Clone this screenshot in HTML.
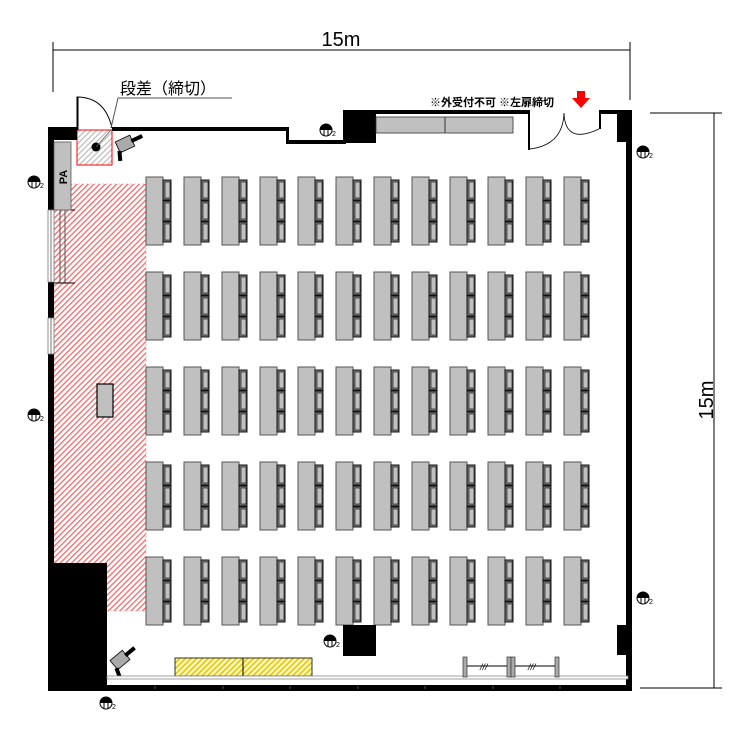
<!DOCTYPE html>
<html><head><meta charset="utf-8"><style>html,body{margin:0;padding:0;background:#fff}svg{display:block}</style></head>
<body>
<svg width="750" height="750" viewBox="0 0 750 750" xmlns="http://www.w3.org/2000/svg">
<defs>
<pattern id="rh" width="4" height="4" patternUnits="userSpaceOnUse" patternTransform="rotate(45)">
<rect width="4" height="4" fill="#fff"/><rect width="1.3" height="4" fill="#f26a6a"/></pattern>
<pattern id="gh" width="4" height="4" patternUnits="userSpaceOnUse" patternTransform="rotate(45)">
<rect width="4" height="4" fill="#fff"/><rect width="1.2" height="4" fill="#bbb"/></pattern>
<pattern id="yh" width="4" height="4" patternUnits="userSpaceOnUse" patternTransform="rotate(45)">
<rect width="4" height="4" fill="#fff7c0"/><rect width="1.5" height="4" fill="#e8c400"/></pattern>
<g id="chair">
<rect x="0" y="0" width="8" height="20" fill="#777" stroke="#111" stroke-width="1"/>
<rect x="2" y="2" width="5" height="16" fill="#c0c0c0" stroke="#333" stroke-width="0.8"/>
</g>
<g id="desk">
<rect x="0" y="0" width="17" height="68" fill="#c0c0c0" stroke="#555" stroke-width="1"/>
<use href="#chair" x="17" y="3"/>
<use href="#chair" x="17" y="24"/>
<use href="#chair" x="17" y="45"/>
</g>
<g id="out">
<circle cx="0" cy="0" r="6" fill="#fff" stroke="#000" stroke-width="1"/>
<path d="M-6,0 A6,6 0 0 1 6,0 Z" fill="#000"/>
<line x1="-2" y1="-1" x2="-2" y2="6" stroke="#000"/><line x1="2" y1="-1" x2="2" y2="6" stroke="#000"/>
<text x="6" y="6" font-family="Liberation Sans, sans-serif" font-size="7">2</text>
</g>
<g id="spk">
<rect x="-8" y="-6" width="16" height="12" fill="#aaa" stroke="#000" stroke-width="0.8"/>
<rect x="7" y="-2" width="12" height="4" fill="#000"/>
<rect x="-10" y="4" width="4" height="10" fill="#000" transform="rotate(20 -8 4)"/>
</g>
</defs>

<line x1="53" y1="50" x2="630" y2="50" stroke="#000"/>
<line x1="53" y1="42" x2="53" y2="92" stroke="#000"/>
<line x1="630" y1="42" x2="630" y2="100" stroke="#000"/>
<text x="341" y="46" font-family="Liberation Sans, sans-serif" font-size="20" text-anchor="middle">15m</text>
<line x1="714" y1="113" x2="714" y2="688" stroke="#000"/>
<line x1="650" y1="113" x2="722" y2="113" stroke="#000"/>
<line x1="640" y1="688" x2="722" y2="688" stroke="#000"/>
<text transform="translate(713,400) rotate(-90)" font-family="Liberation Sans, sans-serif" font-size="20" text-anchor="middle">15m</text>

<rect x="54" y="184" width="92" height="427" fill="url(#rh)" stroke="#e88" stroke-width="0.6" stroke-dasharray="2,2"/>
<rect x="77" y="130" width="35" height="35" fill="url(#gh)" stroke="#f00" stroke-width="1"/>
<circle cx="96" cy="147" r="4.5" fill="#000"/>
<line x1="96" y1="147" x2="111" y2="130" stroke="#555" stroke-width="0.8"/>

<rect x="48" y="127" width="6" height="563" fill="#000"/>
<rect x="48" y="127" width="29" height="13" fill="#000"/>
<rect x="48" y="685" width="584" height="6" fill="#000"/>
<rect x="626" y="112" width="6" height="579" fill="#000"/>
<rect x="112" y="127" width="176" height="4" fill="#000"/>
<rect x="286" y="127" width="3" height="17" fill="#000"/>
<rect x="286" y="140" width="60" height="4" fill="#000"/>
<rect x="343" y="110" width="185" height="4" fill="#000"/>
<rect x="343" y="110" width="33" height="33" fill="#000"/>
<rect x="376" y="117" width="137" height="16" fill="#c0c0c0" stroke="#333" stroke-width="0.8"/>
<line x1="445" y1="117" x2="445" y2="133" stroke="#333"/>
<rect x="528" y="110" width="2" height="40" fill="#000"/>
<rect x="599" y="110" width="33" height="4" fill="#000"/>
<rect x="599" y="110" width="2" height="19" fill="#000"/>
<rect x="617" y="110" width="15" height="32" fill="#000"/>
<path d="M530,149 Q563,145 564,113 Q565,145 599,129" fill="none" stroke="#000" stroke-width="0.8"/>
<path d="M77,130 L77,97 Q105,97 112,128" fill="none" stroke="#000" stroke-width="1"/>
<rect x="77" y="97" width="1.5" height="33" fill="#000"/>

<rect x="48" y="210" width="6" height="72" fill="#fff" stroke="#777" stroke-width="0.8"/>
<line x1="51" y1="210" x2="51" y2="282" stroke="#777"/>
<rect x="48" y="318" width="6" height="36" fill="#fff" stroke="#777" stroke-width="0.8"/>
<line x1="51" y1="318" x2="51" y2="354" stroke="#777"/>
<line x1="60" y1="210" x2="60" y2="283" stroke="#555"/>
<line x1="65" y1="210" x2="65" y2="283" stroke="#555"/>
<line x1="54" y1="283" x2="75" y2="283" stroke="#000" stroke-width="1"/>
<rect x="54" y="142" width="17" height="68" fill="#c0c0c0" stroke="#555" stroke-width="0.8"/>
<text transform="translate(67,177) rotate(-90)" font-family="Liberation Sans, sans-serif" font-size="11" font-weight="bold" text-anchor="middle">PA</text>
<line x1="71" y1="210" x2="75" y2="210" stroke="#000"/>

<rect x="97" y="384" width="16" height="33" fill="#c0c0c0" stroke="#000" stroke-width="1.2"/>

<rect x="48" y="563" width="59" height="128" fill="#000"/>

<text x="120" y="94" font-family="Liberation Sans, Noto Sans CJK JP, sans-serif" font-size="16">段差（締切）</text>
<line x1="118" y1="98" x2="232" y2="98" stroke="#555"/>
<line x1="118" y1="98" x2="111" y2="128" stroke="#555"/>

<text x="430" y="106" font-family="Liberation Sans, Noto Sans CJK JP, sans-serif" font-size="11" font-weight="bold">※外受付不可 ※左扉締切</text>
<path d="M577,91 L585,91 L585,98 L590,98 L581,108 L572,98 L577,98 Z" fill="#f00"/>

<use href="#spk" transform="translate(125,144) rotate(-25)"/>
<use href="#spk" transform="translate(120,660) rotate(-40)"/>

<g id="row">
<use href="#desk" x="146" y="177"/><use href="#desk" x="184" y="177"/><use href="#desk" x="222" y="177"/><use href="#desk" x="260" y="177"/><use href="#desk" x="298" y="177"/><use href="#desk" x="336" y="177"/><use href="#desk" x="374" y="177"/><use href="#desk" x="412" y="177"/><use href="#desk" x="450" y="177"/><use href="#desk" x="488" y="177"/><use href="#desk" x="526" y="177"/><use href="#desk" x="564" y="177"/>
</g>
<use href="#row" y="95"/>
<use href="#row" y="190"/>
<use href="#row" y="285"/>
<use href="#row" y="380"/>

<rect x="343" y="625" width="33" height="31" fill="#000"/>
<rect x="617" y="625" width="12" height="30" fill="#000"/>
<rect x="175" y="658" width="137" height="18" fill="url(#yh)" stroke="#000" stroke-width="0.8"/>
<line x1="243" y1="658" x2="243" y2="676" stroke="#000"/>
<rect x="107" y="676" width="521" height="3" fill="#fff" stroke="#888" stroke-width="0.8"/>
<line x1="107" y1="688" x2="628" y2="688" stroke="#000"/>
<g stroke="#555"><line x1="155" y1="686" x2="155" y2="689"/><line x1="223" y1="686" x2="223" y2="689"/><line x1="290" y1="686" x2="290" y2="689"/><line x1="358" y1="686" x2="358" y2="689"/><line x1="425" y1="686" x2="425" y2="689"/><line x1="493" y1="686" x2="493" y2="689"/><line x1="560" y1="686" x2="560" y2="689"/></g>
<g fill="#aaa" stroke="#333" stroke-width="0.7">
<rect x="463" y="657" width="4" height="20"/><rect x="507" y="657" width="4" height="20"/><rect x="511" y="657" width="4" height="20"/><rect x="555" y="657" width="4" height="20"/>
</g>
<line x1="467" y1="666" x2="507" y2="666" stroke="#000"/><line x1="515" y1="666" x2="555" y2="666" stroke="#000"/>
<text x="480" y="670" font-family="Liberation Sans, sans-serif" font-size="9" font-style="italic">///</text>
<text x="528" y="670" font-family="Liberation Sans, sans-serif" font-size="9" font-style="italic">///</text>

<use href="#out" x="326" y="130"/>
<use href="#out" x="643" y="152"/>
<use href="#out" x="34" y="182"/>
<use href="#out" x="34" y="415"/>
<use href="#out" x="643" y="598"/>
<use href="#out" x="330" y="641"/>
<use href="#out" x="106" y="703"/>
</svg>
</body></html>
